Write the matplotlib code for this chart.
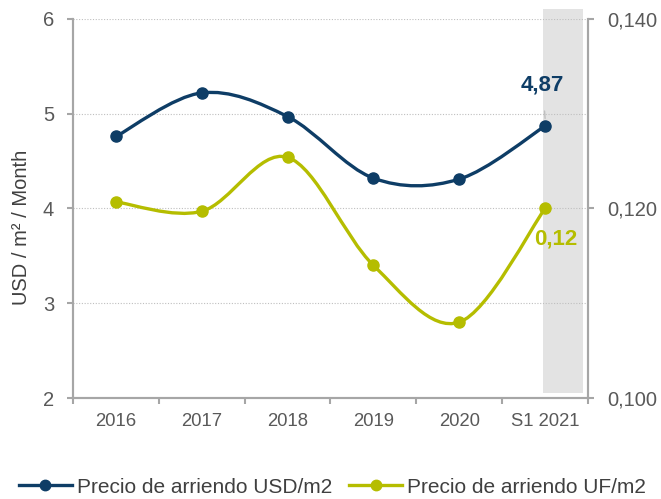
import numpy as np
import matplotlib.pyplot as plt
from matplotlib.path import Path
from matplotlib.patches import PathPatch, Rectangle
from matplotlib.lines import Line2D

plt.rcParams['font.family'] = ['Liberation Sans', 'DejaVu Sans']

# Data
periods = ["2016", "2017", "2018", "2019", "2020", "S1 2021"]
usd_m2 = [4.76, 5.22, 4.97, 4.32, 4.31, 4.87]
uf_m2 = [0.1207, 0.1197, 0.1254, 0.1140, 0.1080, 0.1200]
left_ticks = [2, 3, 4, 5, 6]
right_ticks = [0.100, 0.120, 0.140]

blue = "#0E3D66"
green = "#B5BD00"
grey_txt = "#595959"
spine_c = "#A6A6A6"


def smooth_path(xs, ys):
    # Catmull-Rom style bezier through the points (Excel "smoothed line")
    pts = np.column_stack([xs, ys]).astype(float)
    verts = [pts[0]]
    codes = [Path.MOVETO]
    n = len(pts)
    for i in range(n - 1):
        p0 = pts[i - 1] if i > 0 else pts[i]
        p1, p2 = pts[i], pts[i + 1]
        p3 = pts[i + 2] if i + 2 < n else pts[i + 1]
        c1 = p1 + (p2 - p0) / 6
        c2 = p2 - (p3 - p1) / 6
        verts += [c1, c2, p2]
        codes += [Path.CURVE4] * 3
    return Path(verts, codes)


x = np.arange(len(periods))

fig = plt.figure(figsize=(6.61, 4.99), dpi=100)
ax = fig.add_axes([0.1104, 0.2024, 0.7792, 0.7596])
ax2 = ax.twinx()

ax.set_xlim(-0.5, 5.5)
ax.set_ylim(2, 6)
ax2.set_ylim(0.100, 0.140)

# shaded S1 2021 band
band = Rectangle((4.97, 2.05), 0.47, 4.05, facecolor="#E3E3E3", edgecolor="none",
                 clip_on=False, zorder=0)
ax.add_patch(band)

for v in left_ticks[1:]:
    ax.axhline(v, color="#BFBFBF", lw=0.8, ls=(0, (1, 1.5)), zorder=1)

ax.add_patch(PathPatch(smooth_path(x, usd_m2), facecolor="none", edgecolor=blue,
                       lw=2.4, zorder=3))
ax.plot(x, usd_m2, "o", color=blue, ms=8, zorder=4)

ax2.add_patch(PathPatch(smooth_path(x, uf_m2), facecolor="none", edgecolor=green,
                        lw=2.4, zorder=3))
ax2.plot(x, uf_m2, "o", color=green, ms=8, zorder=4)

# labels on last point
ax.annotate("4,87", xy=(x[-1], usd_m2[-1] + 0.08), xytext=(x[-1] - 0.03, 5.3),
            ha="center", va="center", fontsize=16, fontweight="bold", color=blue,
            arrowprops=dict(arrowstyle="-", color="#BFBFBF", lw=1, shrinkA=9, shrinkB=0))
ax2.text(x[-1] + 0.12, 0.1168, "0,12", ha="center", va="center", fontsize=16,
         fontweight="bold", color=green, zorder=5)

# axes styling
for a in (ax, ax2):
    a.spines["top"].set_visible(False)
    for s in ("left", "right", "bottom"):
        a.spines[s].set_color(spine_c)
        a.spines[s].set_linewidth(1.5)

ax.set_yticks(left_ticks)
ax.set_yticklabels([str(v) for v in left_ticks], fontsize=14.5, color=grey_txt)
ax.tick_params(axis="y", length=4.5, color=spine_c, width=1.5, pad=9)
ax.set_ylabel("USD / m² / Month", fontsize=14.5, color="#404040")
ax.yaxis.set_label_coords(-0.082, 0.45)

ax2.set_yticks(right_ticks)
ax2.set_yticklabels([f"{v:.3f}".replace(".", ",") for v in right_ticks],
                    fontsize=14.5, color=grey_txt)
ax2.tick_params(axis="y", length=4.5, color=spine_c, width=1.5, pad=9)

ax.set_xticks(x)
ax.set_xticklabels(periods, fontsize=13.3, color=grey_txt)
ax.set_xticks(np.arange(-0.5, 6, 1), minor=True)
ax.tick_params(axis="x", which="major", length=0, pad=11)
ax.tick_params(axis="x", which="minor", length=4, color=spine_c, width=1.5)

handles = [
    Line2D([], [], color=blue, lw=2.4, marker="o", ms=7.5),
    Line2D([], [], color=green, lw=2.4, marker="o", ms=7.5),
]
fig.legend(handles, ["Precio de arriendo USD/m2", "Precio de arriendo UF/m2"],
           loc="center", bbox_to_anchor=(0.503, 0.024), ncol=2, frameon=False,
           fontsize=15, handlelength=2.55, handletextpad=0.25, columnspacing=0.8,
           labelcolor="#404040")

fig.savefig("out.png", dpi=100)
